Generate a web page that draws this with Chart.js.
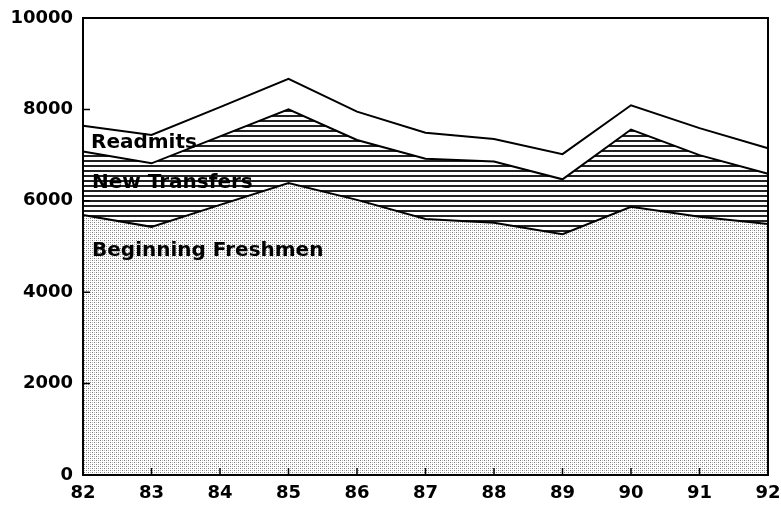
<!DOCTYPE html>
<html>
<head>
<meta charset="utf-8">
<script src="https://cdn.jsdelivr.net/npm/chart.js@4.4.1/dist/chart.umd.min.js"></script>
<style>
  html, body { margin: 0; padding: 0; background: #fff; }
</style>
</head>
<body>
<canvas id="enrollChart" width="781" height="508"></canvas>
<script>
// fall enrollment by entry type, years 82-92
const years = ['82', '83', '84', '85', '86', '87', '88', '89', '90', '91', '92'];
const freshmen = [5690, 5430, 5910, 6390, 6020, 5600, 5520, 5270, 5870, 5650, 5490];
const transfers = [1390, 1390, 1500, 1610, 1310, 1320, 1340, 1200, 1690, 1350, 1100];
const readmits = [560, 620, 640, 670, 620, 570, 490, 550, 530, 590, 560];
const yTicks = [0, 2000, 4000, 6000, 8000, 10000];

const seriesNames = ['Beginning Freshmen', 'New Transfers', 'Readmits'];

// little tiles for the fill patterns
const tmp = document.createElement('canvas').getContext('2d');
const dotPattern = (function () {
    const c = document.createElement('canvas');
    c.width = 4; c.height = 4;
    const g = c.getContext('2d');
    g.fillStyle = '#fff';
    g.fillRect(0, 0, 4, 4);
    g.fillStyle = '#7a7a7a';
    g.fillRect(0, 0, 1, 1);
    g.fillRect(2, 2, 1, 1);
    g.fillStyle = '#bdbdbd';
    g.fillRect(2, 0, 1, 1);
    g.fillRect(0, 2, 1, 1);
    return tmp.createPattern(c, 'repeat');
})();

const linePattern = (function () {
    const c = document.createElement('canvas');
    c.width = 8; c.height = 5;
    const g = c.getContext('2d');
    g.fillStyle = '#fff';
    g.fillRect(0, 0, 8, 5);
    g.fillStyle = '#222';
    g.fillRect(0, 0, 8, 2);
    return tmp.createPattern(c, 'repeat');
})();

// frame, inward tick marks and the series names
const framePlugin = {
    id: 'frame',
    afterDatasetsDraw(chart) {
        const { ctx, chartArea: a, scales } = chart;
        ctx.save();
        ctx.strokeStyle = '#000';
        ctx.lineWidth = 2;
        ctx.strokeRect(a.left, a.top, a.right - a.left, a.bottom - a.top);

        ctx.lineWidth = 1.5;
        ctx.beginPath();
        yTicks.slice(1, -1).forEach(v => {
            const y = scales.y.getPixelForValue(v);
            ctx.moveTo(a.left, y);
            ctx.lineTo(a.left + 7, y);
        });
        years.slice(1, -1).forEach((lbl, i) => {
            const x = scales.x.getPixelForValue(i + 1);
            ctx.moveTo(x, a.bottom);
            ctx.lineTo(x, a.bottom - 7);
        });
        ctx.stroke();

        ctx.fillStyle = '#000';
        ctx.font = 'bold 20px "DejaVu Sans"';
        ctx.textBaseline = 'alphabetic';
        const x0 = a.left + 8;
        ctx.fillText(seriesNames[2], x0, scales.y.getPixelForValue(7150));
        ctx.fillText(seriesNames[1], x0 + 1, scales.y.getPixelForValue(6280));
        ctx.fillText(seriesNames[0], x0 + 1, scales.y.getPixelForValue(4790));
        ctx.restore();
    }
};

const ctx = document.getElementById('enrollChart');

new Chart(ctx, {
    type: 'line',
    data: {
        labels: years,
        datasets: [
            {
                label: seriesNames[0],
                data: freshmen,
                backgroundColor: dotPattern,
                borderColor: '#000',
                borderWidth: 2,
                fill: 'origin'
            },
            {
                label: seriesNames[1],
                data: transfers,
                backgroundColor: linePattern,
                borderColor: '#000',
                borderWidth: 2,
                fill: '-1'
            },
            {
                label: seriesNames[2],
                data: readmits,
                backgroundColor: '#fff',
                borderColor: '#000',
                borderWidth: 2,
                fill: '-1'
            }
        ]
    },
    options: {
        responsive: false,
        animation: false,
        devicePixelRatio: 1,
        elements: {
            point: { radius: 0 },
            line: { tension: 0 }
        },
        layout: {
            padding: { left: 0, top: 18, right: 13, bottom: 0 }
        },
        plugins: {
            legend: { display: false },
            tooltip: { enabled: false }
        },
        scales: {
            x: {
                offset: false,
                grid: { display: false, drawTicks: false },
                border: { display: false },
                ticks: {
                    color: '#000',
                    padding: 8,
                    maxRotation: 0,
                    autoSkip: false,
                    font: { family: 'DejaVu Sans', weight: 'bold', size: 18 }
                },
                afterFit(scale) {
                    scale.height = 33;
                    scale.paddingLeft = 0;
                    scale.paddingRight = 0;
                }
            },
            y: {
                stacked: true,
                min: 0,
                max: 10000,
                grid: { display: false, drawTicks: false },
                border: { display: false },
                afterBuildTicks(scale) {
                    scale.ticks = yTicks.map(v => ({ value: v }));
                },
                ticks: {
                    color: '#000',
                    padding: 10,
                    callback: v => String(v),
                    font: { family: 'DejaVu Sans', weight: 'bold', size: 18 }
                },
                afterFit(scale) {
                    scale.width = 83;
                    scale.paddingTop = 0;
                    scale.paddingBottom = 0;
                }
            }
        }
    },
    plugins: [framePlugin]
});
</script>
</body>
</html>
